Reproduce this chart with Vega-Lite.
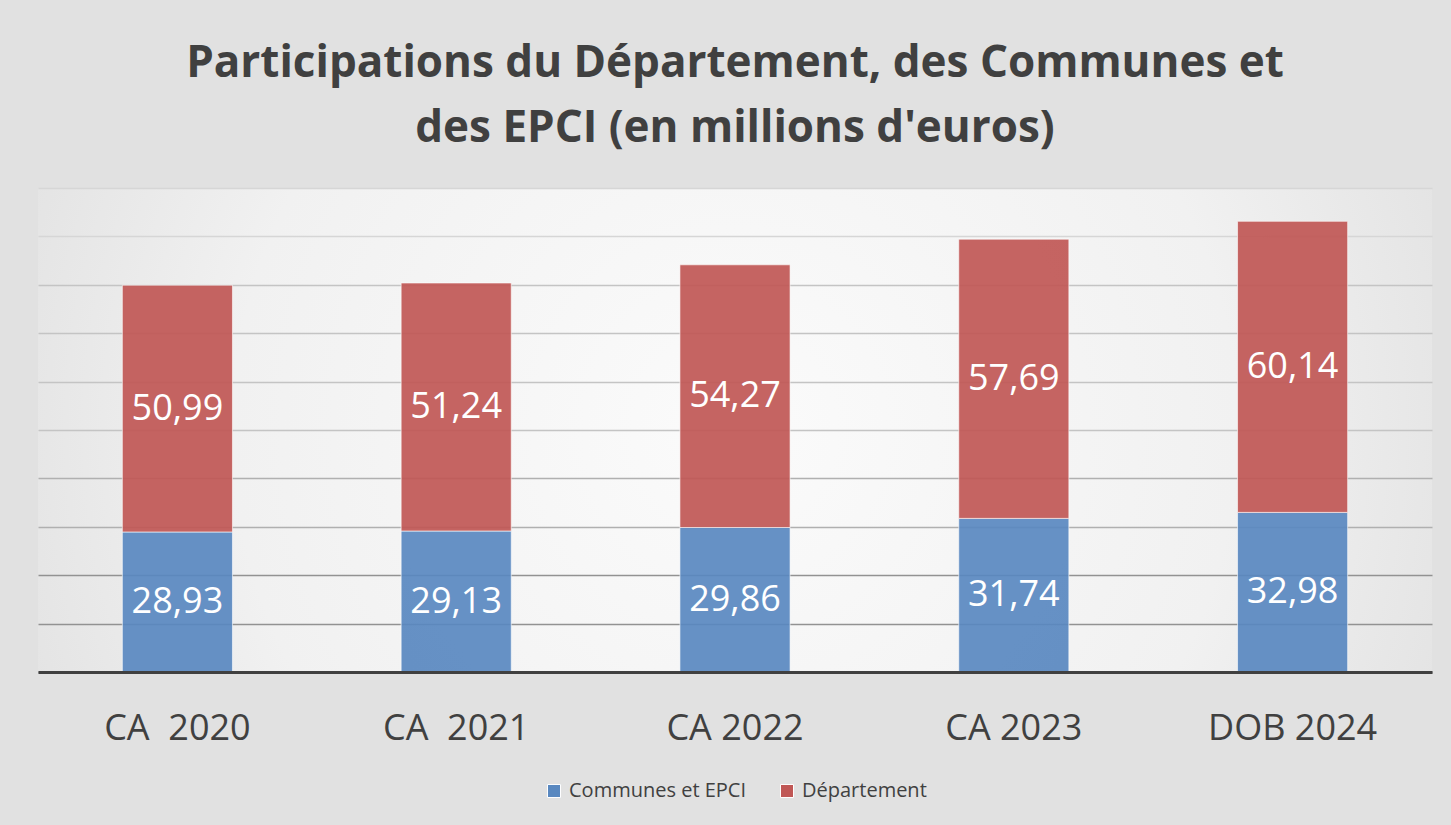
{
  "$schema": "https://vega.github.io/schema/vega-lite/v6.json",
  "width": 1394,
  "height": 484,
  "autosize": {"type": "none"},
  "padding": {"left": 38, "top": 188, "right": 19, "bottom": 153},
  "background": "#e1e1e1",
  "title": {
    "text": ["Participations du Département, des Communes et", "des EPCI (en millions d'euros)"],
    "font": "Open Sans",
    "fontSize": 44,
    "fontWeight": "bold",
    "color": "#404040",
    "lineHeight": 65,
    "anchor": "middle",
    "frame": "group",
    "baseline": "alphabetic",
    "offset": 2
  },
  "config": {
    "locale": {"number": {"decimal": ",", "thousands": " ", "grouping": [3], "currency": ["", " €"]}},
    "legend": {"layout": {"bottom": {"anchor": "middle"}}},
    "view": {
      "stroke": null,
      "fill": {
        "gradient": "radial",
        "x1": 0.5, "y1": 0.5, "r1": 0,
        "x2": 0.5, "y2": 0.5, "r2": 0.72,
        "stops": [
          {"offset": 0, "color": "#fbfbfb"},
          {"offset": 0.5, "color": "#f1f1f1"},
          {"offset": 1, "color": "#d6d6d6"}
        ]
      }
    }
  },
  "data": {
    "values": [
      {"periode": "CA\u00a0 2020", "serie": "Communes et EPCI", "valeur": 28.93},
      {"periode": "CA\u00a0 2020", "serie": "Département", "valeur": 50.99},
      {"periode": "CA\u00a0 2021", "serie": "Communes et EPCI", "valeur": 29.13},
      {"periode": "CA\u00a0 2021", "serie": "Département", "valeur": 51.24},
      {"periode": "CA 2022", "serie": "Communes et EPCI", "valeur": 29.86},
      {"periode": "CA 2022", "serie": "Département", "valeur": 54.27},
      {"periode": "CA 2023", "serie": "Communes et EPCI", "valeur": 31.74},
      {"periode": "CA 2023", "serie": "Département", "valeur": 57.69},
      {"periode": "DOB 2024", "serie": "Communes et EPCI", "valeur": 32.98},
      {"periode": "DOB 2024", "serie": "Département", "valeur": 60.14}
    ]
  },
  "encoding": {
    "x": {
      "field": "periode",
      "type": "nominal",
      "sort": null,
      "scale": {"paddingInner": 0.605, "paddingOuter": 0.3025},
      "axis": {
        "title": null,
        "labelAngle": 0,
        "labelFont": "Open Sans",
        "labelFontSize": 36,
        "labelColor": "#404040",
        "labelPadding": 39,
        "ticks": false,
        "domainColor": "#404040",
        "domainWidth": 3,
        "zindex": 1
      }
    },
    "order": {"field": "serie", "sort": "ascending"}
  },
  "layer": [
    {
      "mark": {"type": "bar", "stroke": "#ffffff", "strokeOpacity": 0.6, "strokeWidth": 1, "fillOpacity": 0.92},
      "encoding": {
        "y": {
          "field": "valeur",
          "type": "quantitative",
          "stack": "zero",
          "scale": {"domain": [0, 100], "nice": false},
          "axis": {
            "title": null,
            "labels": false,
            "ticks": false,
            "domain": false,
            "values": [0, 10, 20, 30, 40, 50, 60, 70, 80, 90, 100],
            "gridWidth": 1.5,
            "gridColor": {
              "condition": [
                {"test": "datum.value >= 85", "value": "#d6d6d6"},
                {"test": "datum.value >= 50", "value": "#c4c4c4"},
                {"test": "datum.value >= 25", "value": "#b0b0b0"}
              ],
              "value": "#929292"
            }
          }
        },
        "color": {
          "field": "serie",
          "type": "nominal",
          "scale": {"domain": ["Communes et EPCI", "Département"], "range": ["#5988c0", "#c05755"]},
          "legend": {
            "title": null,
            "orient": "bottom",
            "direction": "horizontal",
            "labelFont": "Open Sans",
            "labelFontSize": 20,
            "labelColor": "#404040",
            "labelLimit": 400,
            "symbolType": "square",
            "symbolSize": 170,
            "symbolStrokeWidth": 1,
            "labelOffset": 5,
            "columnPadding": 30,
            "offset": 35
          }
        }
      }
    },
    {
      "mark": {"type": "text", "font": "Open Sans", "fontSize": 36, "color": "#ffffff", "baseline": "middle"},
      "encoding": {
        "y": {"field": "valeur", "type": "quantitative", "stack": "zero", "bandPosition": 0.5},
        "detail": {"field": "serie"},
        "text": {"field": "valeur", "type": "quantitative", "format": ".2f"}
      }
    }
  ]
}
